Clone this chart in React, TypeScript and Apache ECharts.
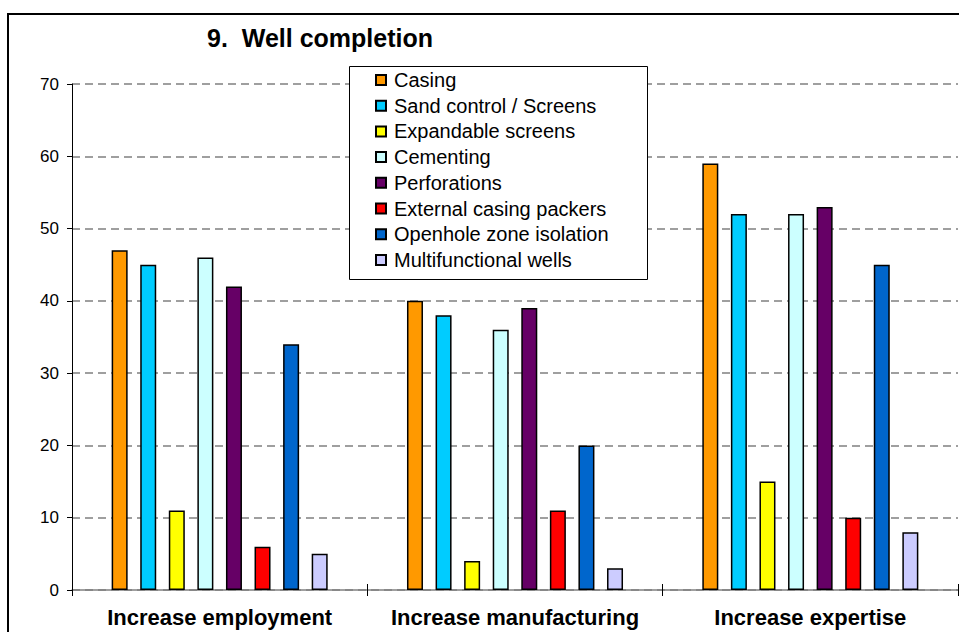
import React, { useEffect, useRef } from "react";
import * as echarts from "echarts";

const categories = ["Increase employment", "Increase manufacturing", "Increase expertise"];
const seriesNames = [
  "Casing",
  "Sand control / Screens",
  "Expandable screens",
  "Cementing",
  "Perforations",
  "External casing packers",
  "Openhole zone isolation",
  "Multifunctional wells",
];
const seriesColors = ["#FF9900", "#00CCFF", "#FFFF00", "#CCFFFF", "#660066", "#FF0000", "#0066CC", "#CCCCFF"];
const casing = [47, 40, 59];
const sandControl = [45, 38, 52];
const expandable = [11, 4, 15];
const cementing = [46, 36, 52];
const perforations = [42, 39, 53];
const externalPackers = [6, 11, 10];
const openhole = [34, 20, 45];
const multifunctional = [5, 3, 8];
const seriesValues = [casing, sandControl, expandable, cementing, perforations, externalPackers, openhole, multifunctional];
const yTicks = { min: 0, max: 70, interval: 10 };

const FONT = "'Liberation Sans', Arial, sans-serif";

export default function App() {
  const ref = useRef<HTMLDivElement>(null);
  useEffect(() => {
    if (!ref.current) return;
    const chart = echarts.init(ref.current, undefined, { renderer: "svg" });
    chart.setOption({
      animation: false,
      backgroundColor: "#ffffff",
      title: {
        text: "9.  Well completion",
        left: 207,
        top: 25,
        padding: 0,
        textStyle: { fontFamily: FONT, fontSize: 25, fontWeight: "bold", color: "#000" },
      },
      graphic: [
        {
          type: "rect",
          shape: { x: 8, y: 14, width: 960, height: 640 },
          style: { fill: "none", stroke: "#000", lineWidth: 2 },
          z: 0,
          silent: true,
        },
        {
          type: "rect",
          shape: { x: 349.5, y: 66.5, width: 298, height: 213 },
          style: { fill: "#fff", stroke: "#000", lineWidth: 1 },
          z: 50,
          silent: true,
        },
      ],
      legend: {
        orient: "vertical",
        left: 375,
        top: 69,
        padding: 0,
        itemWidth: 10,
        itemHeight: 10,
        itemGap: 3.7,
        icon: "rect",
        z: 60,
        textStyle: { fontFamily: FONT, fontSize: 20, lineHeight: 22, color: "#000", padding: [0, 0, 0, 3] },
        data: seriesNames,
      },
      grid: { left: 72, right: 1, top: 84, bottom: 42 },
      xAxis: [
        {
          type: "category",
          data: categories,
          boundaryGap: true,
          axisLine: { show: true, lineStyle: { color: "#808080", width: 1.5 } },
          axisTick: { show: true, length: 6, lineStyle: { color: "#000" } },
          axisLabel: {
            interval: 0,
            hideOverlap: false,
            fontFamily: FONT,
            fontSize: 22,
            fontWeight: "bold",
            color: "#000",
            margin: 16,
          },
        },
        {
          type: "category",
          data: categories,
          position: "bottom",
          boundaryGap: true,
          axisLine: { show: false },
          axisTick: { show: true, inside: true, length: 6, lineStyle: { color: "#000" } },
          axisLabel: { show: false },
        },
      ],
      yAxis: {
        type: "value",
        min: yTicks.min,
        max: yTicks.max,
        interval: yTicks.interval,
        axisLine: { show: true, lineStyle: { color: "#000" } },
        axisTick: { show: true, length: 5, lineStyle: { color: "#000" } },
        axisLabel: { fontFamily: FONT, fontSize: 17, color: "#000", margin: 13 },
        splitLine: { show: true, lineStyle: { color: "#808080", type: [8, 5], width: 1.5 } },
      },
      series: seriesNames.map((name, i) => ({
        name,
        type: "bar",
        data: seriesValues[i],
        barWidth: 16,
        barGap: "78.6%",
        itemStyle: { color: seriesColors[i], borderColor: "#000", borderWidth: 1.5 },
      })),
    });
    return () => chart.dispose();
  }, []);
  return (
    <div
      ref={ref}
      style={{ position: "absolute", left: 0, top: 0, width: 959, height: 632 }}
    />
  );
}
